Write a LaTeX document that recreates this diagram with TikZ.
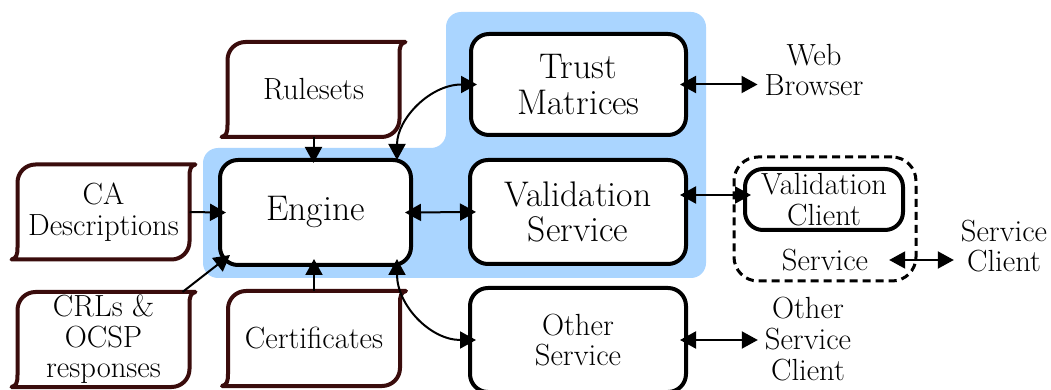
\documentclass[tikz,border=0pt]{standalone}
\usetikzlibrary{arrows.meta,calc}

\definecolor{bgblue}{RGB}{170,213,255}
\definecolor{docbrown}{RGB}{58,12,12}

% outline of a curled "document" sheet around a named node
\newcommand{\docframe}[1]{%
  \draw[docline]
    ($(#1.north west)+(0,18)$)
      .. controls ($(#1.north west)+(0,8)$) and ($(#1.north west)+(8,0)$) .. ($(#1.north west)+(18,0)$)
    -- ($(#1.north east)+(6,0)$)
      .. controls ($(#1.north east)+(1,1)$) and ($(#1.north east)+(0,5)$) .. ($(#1.north east)+(0,12)$)
    -- ($(#1.south east)+(0,-18)$)
      .. controls ($(#1.south east)+(0,-8)$) and ($(#1.south east)+(-8,0)$) .. ($(#1.south east)+(-18,0)$)
    -- ($(#1.south west)+(-6,0)$)
      .. controls ($(#1.south west)+(-1,-1)$) and ($(#1.south west)+(0,-5)$) .. ($(#1.south west)+(0,-12)$)
    -- cycle;}

\begin{document}
\begin{tikzpicture}[x=0.5pt,y=-0.5pt,
  txt/.style={font=\fontsize{15.3pt}{15.3pt}\selectfont, align=center},
  big/.style={font=\fontsize{17.8pt}{17.8pt}\selectfont, align=center},
  box/.style={draw, fill=white, line width=2pt, rounded corners=9pt,
              inner sep=0pt, outer sep=0pt},
  doc/.style={txt, minimum width=86pt, minimum height=47.5pt,
              inner sep=0pt, outer sep=0pt},
  docline/.style={draw=docbrown, line width=2pt, line join=round},
  group/.style={draw, line width=1.5pt, dash pattern=on 4pt off 2.5pt,
                rounded corners=12pt, inner sep=0pt, outer sep=0pt},
  link/.style={line width=1pt, >={Triangle[length=8pt,width=8.5pt]}}]

\useasboundingbox (0,0) rectangle (1051,390);
\fill[white] (0,0) rectangle (1051,390);

% shaded region behind the core components
\fill[bgblue, rounded corners=7.5pt]
  (576,12) -- (706,12) -- (706,278) -- (203,278) -- (203,148)
  -- (446,148) -- (446,12) -- cycle;

% input documents
\node[doc] (rules) at (313.5,89.5) {Rulesets};
\node[doc] (ca)    at (103.5,212)  {CA\\Descriptions};
\node[doc] (crl)   at (103.5,339.5) {CRLs \&\\OCSP\\responses};
\node[doc] (cert)  at (314,338.5)  {Certificates};
\docframe{rules}
\docframe{ca}
\docframe{crl}
\docframe{cert}

% core components
\node[box, big, minimum width=95.5pt, minimum height=52.5pt] (engine) at (315.5,212.5) {Engine};
\node[box, big, minimum width=107.5pt, minimum height=50.5pt] (trust) at (578.5,84.5) {Trust\\Matrices};
\node[box, big, minimum width=108pt, minimum height=52pt] (vservice) at (578,212) {Validation\\Service};
\node[box, txt, minimum width=108pt, minimum height=52pt] (other) at (578,340) {Other\\Service};

% validation client inside its service group
\node[group, minimum width=91pt, minimum height=62pt] (svcgroup) at (825,219) {};
\node[box, txt, minimum width=79pt, minimum height=30.5pt] (vclient) at (824,199.5) {Validation\\Client};
\node[txt] (service) at (825,260) {Service};

% external clients
\node[txt] (web)       at (814,70)   {Web\\Browser};
\node[txt] (svcclient) at (1004,246) {Service\\Client};
\node[txt] (osc)       at (808,339)  {Other\\Service\\Client};

% inputs to the engine
\draw[link,->,shorten >=-1.5pt] (rules.south) -- (rules.south |- engine.north);
\draw[link,->,shorten >=-3pt] (ca.east) -- (engine.west);
\draw[link,->] ($(crl.north east)+(-7,0)$) -- ($(engine.south west)+(10,-10)$);
\draw[link,->,shorten >=-3pt] (cert.north) -- (cert.north |- engine.south);

% engine to services
\draw[link,<->,shorten >=-3pt]
  ($(engine.north east)+(-14,0)$) .. controls +(0,-41) and +(-41,0) .. (trust.west);
\draw[link,<->,shorten <=-3pt,shorten >=-3pt]
  ($(engine.south east)+(-14,0)$) .. controls +(0,40) and +(-40,0) .. (other.west);
\draw[link,<->,shorten <=-3pt,shorten >=-3pt] (engine.east) -- (vservice.west);

% services to clients
\draw[link,<->,shorten <=-3pt] (trust.east) -- (trust.east -| web.west);
\coordinate (vsout) at ($(vservice.east)+(0,-17)$);
\draw[link,<->,shorten <=-3pt,shorten >=-3pt] (vsout) -- (vsout -| vclient.west);
\coordinate (svout) at ($(service.east)+(14,0)$);
\draw[link,<->] (svout) -- (svout -| svcclient.west);
\draw[link,<->,shorten <=-3pt] (other.east) -- (other.east -| osc.west);

\end{tikzpicture}
\end{document}
